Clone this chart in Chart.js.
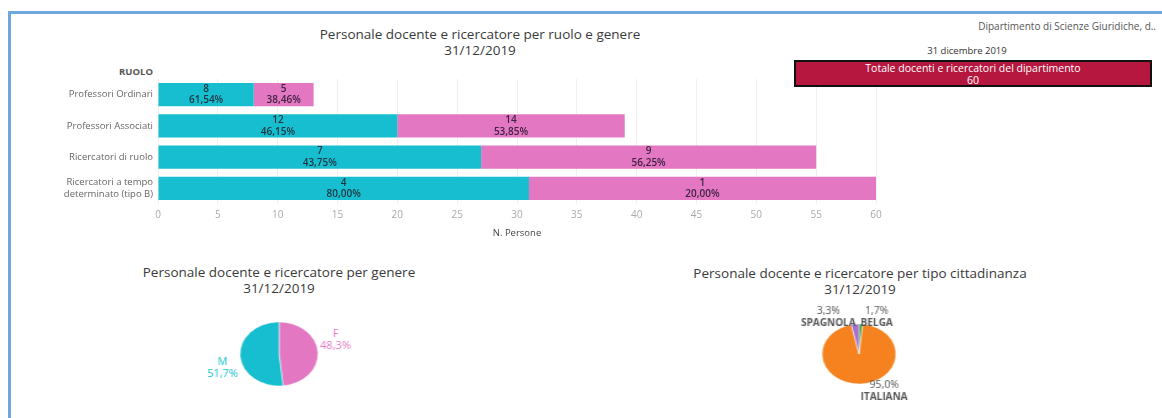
<!DOCTYPE html>
<html>
<head>
<meta charset="utf-8">
<script src="https://cdn.jsdelivr.net/npm/chart.js"></script>
<style>
	body { margin: 0; width: 1162px; height: 418px; background: #fff; font-family: "Open Sans", Lato, sans-serif; overflow: hidden; position: relative; }
	.frame { position: absolute; left: 8px; top: 11px; right: -10px; bottom: -10px; border-left: 3px solid #6fa8dc; border-top: 3px solid #6fa8dc; }
	.txt { position: absolute; white-space: nowrap; color: #333; }
	.center { width: 500px; text-align: center; }
	.box { position: absolute; left: 794px; top: 60px; width: 358px; height: 27px; box-sizing: border-box; background: #b5173f; border: 2px solid #111; color: #fff; text-align: center; font-size: 10.5px; line-height: 11.5px; padding-top: 1px; z-index: 5; }
	.wrap { position: absolute; }
	.pie { transform-origin: 50% 50%; }
</style>
</head>
<body>
<div class="frame"></div>

<div class="txt center" style="left:230px; top:26px; font-size:13.5px; line-height:16px; color:#3a3a3a;">Personale docente e ricercatore per ruolo e genere<br>31/12/2019</div>
<div class="txt" style="right:6px; top:19px; font-size:10px; color:#555;">Dipartimento di Scienze Giuridiche, d..</div>
<div class="txt center" style="left:717px; top:44px; font-size:9.5px; color:#333;">31 dicembre 2019</div>
<div class="box">Totale docenti e ricercatori del dipartimento<br><span id="totale"></span></div>
<div class="txt" style="right:1009px; top:65px; font-size:9.5px; font-weight:bold; color:#555;">RUOLO</div>

<div class="txt center" style="left:29px; top:264px; font-size:13.5px; line-height:16px; color:#3a3a3a;">Personale docente e ricercatore per genere<br>31/12/2019</div>
<div class="txt center" style="left:610px; top:265px; font-size:13.5px; line-height:16px; color:#3a3a3a;">Personale docente e ricercatore per tipo cittadinanza<br>31/12/2019</div>

<div class="wrap" style="left:0; top:60px; width:920px; height:190px;"><canvas id="CanvasRuoloGenere"></canvas></div>
<div class="wrap pie" style="left:179px; top:284px; width:200px; height:140px; transform:scaleX(1.22);"><canvas id="CanvasGenere"></canvas></div>
<div class="wrap pie" style="left:759px; top:284px; width:200px; height:140px; transform:scaleX(1.233);"><canvas id="CanvasCittadinanza"></canvas></div>

<script>
var ruoli = ['Professori Ordinari', 'Professori Associati', 'Ricercatori di ruolo', ['Ricercatori a tempo', 'determinato (tipo B)']];
var maschi = [8, 12, 7, 4];
var femmine = [5, 14, 9, 1];
var xTicks = [0, 5, 10, 15, 20, 25, 30, 35, 40, 45, 50, 55, 60];

var generi = ['F', 'M'];
var generiValori = [29, 31];

var cittadinanze = ['BELGA', 'ITALIANA', 'SPAGNOLA'];
var cittadinanzeValori = [1, 57, 2];

var totaleDipartimento = 60;

var cyan = '#17becf';
var pink = '#e377c2';
var fontFamily = '"Open Sans", Lato, sans-serif';

document.getElementById('totale').textContent = totaleDipartimento;

function FormatNumber(value, decimals) {
	return value.toFixed(decimals).replace('.', ',');
}

// running totals, same as the tableau view (bars are cumulative)
var runM = 0, runF = 0;
var barsM = [], barsF = [];
for (var i = 0; i < maschi.length; i++) {
	runM += maschi[i];
	runF += femmine[i];
	barsM.push([0, runM]);
	barsF.push([runM, runM + runF]);
}

const barLabelsPlugin = {
	id: 'barLabels',
	afterDatasetsDraw(chart) {
		const ctx = chart.ctx;
		ctx.save();
		ctx.font = '600 10px ' + fontFamily;
		ctx.textAlign = 'center';
		ctx.textBaseline = 'middle';
		chart.data.datasets.forEach(function (ds, d) {
			chart.getDatasetMeta(d).data.forEach(function (bar, i) {
				var count = d === 0 ? maschi[i] : femmine[i];
				var pct = count / (maschi[i] + femmine[i]) * 100;
				var cx = (bar.x + bar.base) / 2;
				ctx.fillStyle = d === 0 ? '#1d3440' : '#3d2340';
				ctx.fillText(String(count), cx, bar.y - 5.5);
				ctx.fillText(FormatNumber(pct, 2) + '%', cx, bar.y + 6);
			});
		});
		ctx.restore();
	}
};

const pieLabelsPlugin = {
	id: 'pieLabels',
	afterDatasetsDraw(chart, args, opts) {
		const ctx = chart.ctx;
		const ds = chart.data.datasets[0];
		const tot = ds.data.reduce(function (a, b) { return a + b; }, 0);
		chart.getDatasetMeta(0).data.forEach(function (arc, i) {
			var mid = (arc.startAngle + arc.endAngle) / 2;
			var cos = Math.cos(mid), sin = Math.sin(mid);
			var ax = arc.x + cos * (arc.outerRadius + opts.gap / opts.stretch);
			var ay = arc.y + sin * (arc.outerRadius + opts.gap);
			var pct = FormatNumber(ds.data[i] / tot * 100, 1) + '%';
			var name = chart.data.labels[i];
			var lines = opts.nameFirst ? [[name, opts.nameFont], [pct, opts.pctFont]] : [[pct, opts.pctFont], [name, opts.nameFont]];
			ctx.save();
			ctx.translate(ax, ay);
			ctx.scale(1 / opts.stretch, 1);
			var w = 0;
			lines.forEach(function (l) { ctx.font = l[1]; w = Math.max(w, ctx.measureText(l[0]).width); });
			var left = cos >= 0 ? 0 : -w;
			var top = sin < 0 ? -opts.lineHeight * lines.length : 0;
			ctx.textAlign = 'center';
			ctx.textBaseline = 'middle';
			ctx.fillStyle = opts.colorBySlice ? ds.backgroundColor[i] : '#555';
			lines.forEach(function (l, k) {
				ctx.font = l[1];
				ctx.fillText(l[0], left + w / 2, top + opts.lineHeight * (k + 0.5));
			});
			ctx.restore();
		});
	}
};

function BindRuoloGenereToGraph() {
	const context = document.getElementById('CanvasRuoloGenere');
	new Chart(context, {
		type: 'bar',
		data: {
			labels: ruoli,
			datasets: [
				{ label: 'M', data: barsM, backgroundColor: cyan, barPercentage: 0.74, categoryPercentage: 1 },
				{ label: 'F', data: barsF, backgroundColor: pink, barPercentage: 0.74, categoryPercentage: 1 }
			]
		},
		options: {
			indexAxis: 'y',
			responsive: true,
			maintainAspectRatio: false,
			animation: false,
			layout: { padding: { top: 19, right: 44, left: 0, bottom: 0 } },
			plugins: { legend: { display: false }, tooltip: { enabled: false } },
			scales: {
				x: {
					min: 0,
					max: 60,
					afterBuildTicks: function (s) { s.ticks = xTicks.map(function (v) { return { value: v }; }); },
					ticks: { color: '#aaa', font: { size: 10, family: fontFamily }, padding: 5 },
					grid: { color: '#efefef', drawTicks: false },
					border: { display: false },
					title: { display: true, text: 'N. Persone', color: '#444', font: { size: 9.5, family: fontFamily }, padding: { top: 4, bottom: 11 } },
					afterFit: function (s) { s.height = 46; }
				},
				y: {
					ticks: { color: '#666', font: { size: 9.5, family: fontFamily }, padding: 5 },
					grid: { display: false, drawTicks: false },
					border: { display: false },
					afterFit: function (s) { s.width = 158; }
				}
			},
			datasets: { bar: { grouped: false } }
		},
		plugins: [barLabelsPlugin]
	});
}

function BindPieToGraph(canvasId, labels, values, colors, radius, stretch, labelOpts) {
	new Chart(document.getElementById(canvasId), {
		type: 'pie',
		data: {
			labels: labels,
			datasets: [{ data: values, backgroundColor: colors, borderWidth: 0.5, borderColor: '#fff', radius: radius }]
		},
		options: {
			responsive: true,
			maintainAspectRatio: false,
			animation: false,
			layout: { padding: 0 },
			plugins: {
				legend: { display: false },
				tooltip: { enabled: false },
				pieLabels: Object.assign({ stretch: stretch, lineHeight: 12 }, labelOpts)
			}
		},
		plugins: [pieLabelsPlugin]
	});
}

BindRuoloGenereToGraph();
BindPieToGraph('CanvasGenere', generi, generiValori, [pink, cyan], 32, 1.22, {
	nameFirst: true, colorBySlice: true, gap: 2,
	nameFont: '11px ' + fontFamily, pctFont: '11px ' + fontFamily
});
BindPieToGraph('CanvasCittadinanza', cittadinanze, cittadinanzeValori, ['#2ca02c', '#f5821f', '#a56fd1'], 30, 1.233, {
	nameFirst: false, colorBySlice: false, gap: -5,
	nameFont: 'bold 10px ' + fontFamily, pctFont: '10.5px ' + fontFamily
});
</script>
</body>
</html>
